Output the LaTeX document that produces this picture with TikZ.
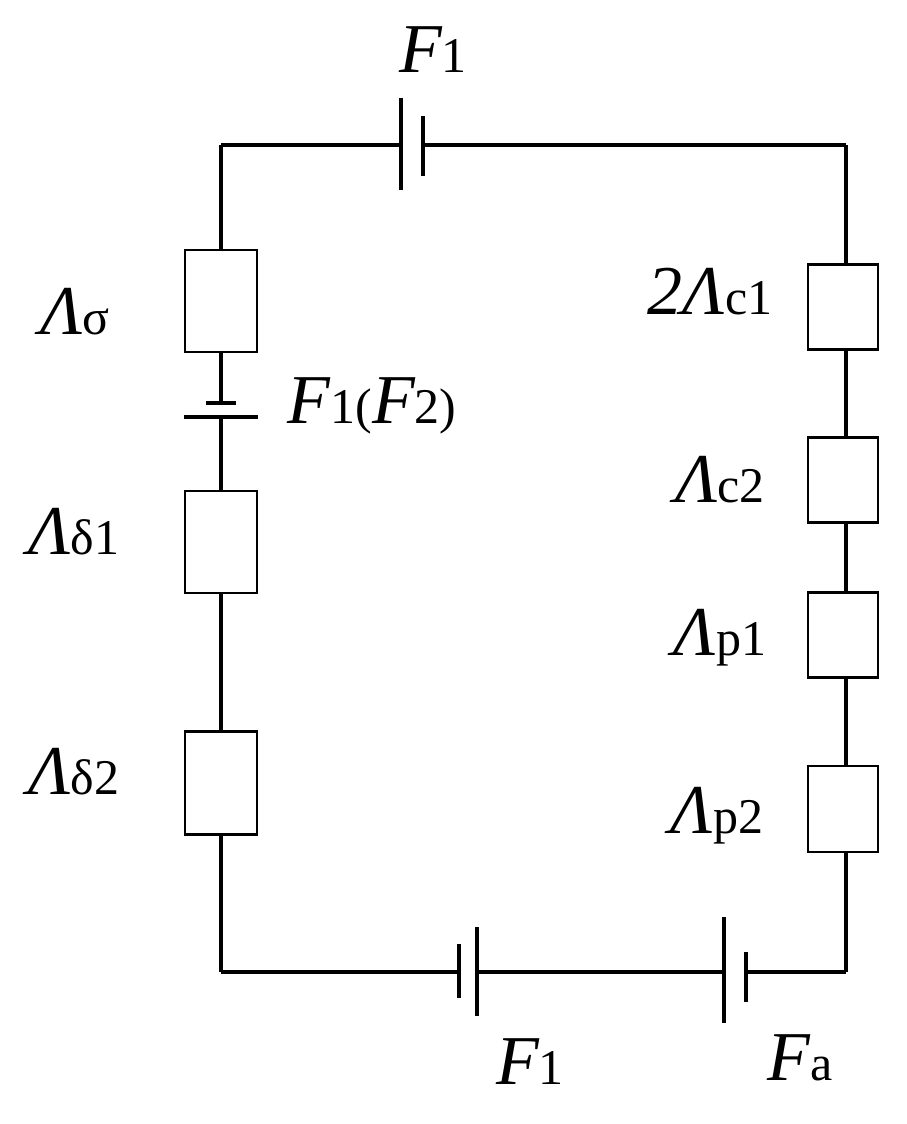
\documentclass[tikz,border=0pt]{standalone}
\usepackage{fontspec}
\setmainfont{Liberation Serif}
\newcommand{\Lb}[1]{{\fontsize{70}{70}\selectfont\itshape #1}}
\newcommand{\Sb}[1]{{\fontsize{50}{50}\selectfont #1}}
\begin{document}
\begin{tikzpicture}[x=1pt,y=-1pt,line width=3.4pt,
  box/.style={draw,line width=2.6pt,fill=white,minimum width=72pt,minimum height=#1,inner sep=0pt},
  lab/.style={inner sep=0pt,anchor=center}]
\useasboundingbox (0,0) rectangle (906,1124);
% wires
\coordinate (tl) at (221,145); \coordinate (tr) at (846,145);
\coordinate (bl) at (221,972); \coordinate (br) at (846,972);
\draw (tl) -- (401,145); \draw (423,145) -- (tr);
\draw (bl) -- (459,972); \draw (477,972) -- (724,972); \draw (746,972) -- (br);
\draw (tl) -- (221,403); \draw (221,417) -- (bl);
\draw (tr) -- (br);
% batteries
\draw (401,98) -- (401,190); \draw (423,116) -- (423,176);
\draw (206,403) -- (236,403); \draw (184,417) -- (258,417);
\draw (459,944) -- (459,998); \draw (477,927) -- (477,1016);
\draw (724,917) -- (724,1023); \draw (746,952) -- (746,1002);
% boxes
\node[box=102pt] (s) at (221,301) {};
\node[box=102pt] (d1) at (221,542) {};
\node[box=103pt] (d2) at (221,783) {};
\node[box=85pt,minimum width=70pt] (c1) at (843,307) {};
\node[box=85pt,minimum width=70pt] (c2) at (843,480) {};
\node[box=85pt,minimum width=70pt] (p1) at (843,635) {};
\node[box=86pt,minimum width=70pt] (p2) at (843,809) {};
% labels
\node[lab] (lF1t) at (433,50) {\Lb{F}\Sb{1}};
\node[lab] (ls) at (75,312) {\Lb{Λ}\Sb{σ}};
\node[lab] (lF12) at (372,406) {\Lb{F}\Sb{1(}\Lb{F}\Sb{2)}};
\node[lab] (ld1) at (74,532) {\Lb{Λ}\Sb{δ1}};
\node[lab] (ld2) at (74,772) {\Lb{Λ}\Sb{δ2}};
\node[lab] (lc1) at (710,292) {\Lb{2Λ}\Sb{c1}};
\node[lab] (lc2) at (720,480) {\Lb{Λ}\Sb{c2}};
\node[lab] (lp1) at (720,638) {\Lb{Λ}\Sb{p1}};
\node[lab] (lp2) at (717,816) {\Lb{Λ}\Sb{p2}};
\node[lab] (lF1b) at (530,1062) {\Lb{F}\Sb{1}};
\node[lab] (lFa) at (800,1058) {\Lb{F}\Sb{a}};
\end{tikzpicture}
\end{document}
